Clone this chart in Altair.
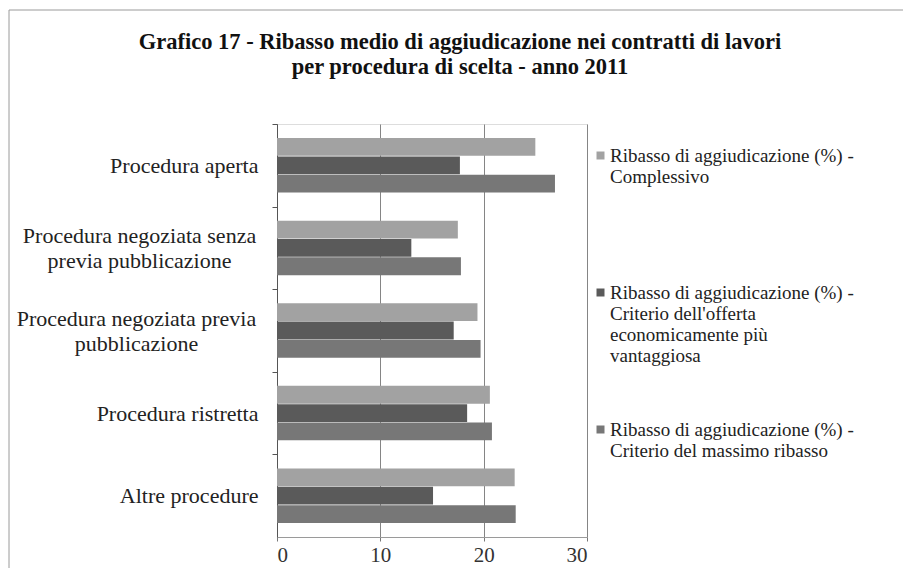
import altair as alt
import pandas as pd

categories = [
    "Procedura aperta",
    "Procedura negoziata senza previa pubblicazione",
    "Procedura negoziata previa pubblicazione",
    "Procedura ristretta",
    "Altre procedure",
]
category_lines = {
    "Procedura negoziata senza previa pubblicazione": ["Procedura negoziata senza", "previa pubblicazione"],
    "Procedura negoziata previa pubblicazione": ["Procedura negoziata previa", "pubblicazione"],
}
series = [
    "Ribasso di aggiudicazione (%) - Complessivo",
    "Ribasso di aggiudicazione (%) - Criterio dell'offerta economicamente più vantaggiosa",
    "Ribasso di aggiudicazione (%) - Criterio del massimo ribasso",
]
series_lines = {
    series[0]: ["Ribasso di aggiudicazione (%) -", "Complessivo"],
    series[1]: ["Ribasso di aggiudicazione (%) -", "Criterio dell'offerta", "economicamente più", "vantaggiosa"],
    series[2]: ["Ribasso di aggiudicazione (%) -", "Criterio del massimo ribasso"],
}
complessivo = [25.0, 17.5, 19.4, 20.6, 23.0]
offerta_vantaggiosa = [17.7, 13.0, 17.1, 18.4, 15.1]
massimo_ribasso = [26.9, 17.8, 19.7, 20.8, 23.1]
colors = ["#a2a2a2", "#5a5a5a", "#777777"]
x_ticks = [0, 10, 20, 30]

rows = []
for i, c in enumerate(categories):
    for s, vals in zip(series, [complessivo, offerta_vantaggiosa, massimo_ribasso]):
        rows.append({"categoria": c, "serie": s, "valore": vals[i]})
df = pd.DataFrame(rows)

FONT = "Liberation Serif"
W, H = 310, 413
STEP = H / len(categories)
LINE_H = 25
FRAME_TOP = -114


def js_str(s):
    return "'" + s.replace("\\", "\\\\").replace("'", "\\'") + "'"


def lines_expr(mapping):
    expr = "datum.label"
    for k, v in mapping.items():
        arr = "[" + ",".join(js_str(x) for x in v) + "]"
        expr = f"datum.label == {js_str(k)} ? {arr} : ({expr})"
    return expr


multi = list(category_lines.keys())
multi_test = " || ".join(f"datum.value == {js_str(k)}" for k in multi)
align_cond = {"condition": {"test": multi_test, "value": "center"}, "value": "right"}
offset_cond = {"condition": {"test": multi_test, "value": STEP / 2 - LINE_H / 2}, "value": STEP / 2}
pad_cond = {
    "condition": [
        {"test": f"datum.value == {js_str(multi[0])}", "value": 14 + 119},
        {"test": f"datum.value == {js_str(multi[1])}", "value": 14 + 122},
    ],
    "value": 14,
}

bars = alt.Chart(df).mark_bar().encode(
    x=alt.X(
        "valore:Q",
        scale=alt.Scale(domain=[0, 30], nice=False),
        axis=alt.Axis(
            values=x_ticks, title=None, grid=True, gridColor="#858585", gridWidth=1,
            domainColor="#9a9a9a", tickColor="#777777", tickSize=4,
            labelFont=FONT, labelFontSize=21, labelColor="#333333", labelPadding=3,
        ),
    ),
    y=alt.Y(
        "categoria:N",
        sort=categories,
        scale=alt.Scale(paddingInner=0.34, paddingOuter=0.17),
        axis=alt.Axis(
            title=None, domainColor="#555555", tickColor="#555555", tickSize=5,
            tickOffset=-STEP / 2, labelOffset=offset_cond,
            labelExpr=lines_expr(category_lines), labelLineHeight=LINE_H,
            labelFont=FONT, labelFontSize=22, labelColor="#222222",
            labelAlign=align_cond, labelPadding=pad_cond, labelLimit=400,
        ),
    ),
    yOffset=alt.YOffset("serie:N", sort=series, scale=alt.Scale(paddingInner=0.03)),
    color=alt.Color(
        "serie:N",
        sort=series,
        scale=alt.Scale(domain=series, range=colors),
        legend=alt.Legend(
            title=None, orient="none", legendX=314, legendY=22,
            symbolType="square", symbolSize=64, symbolStrokeWidth=0,
            labelFont=FONT, labelFontSize=19, labelColor="#222222", labelLimit=400,
            labelExpr=lines_expr(series_lines), rowPadding=54, labelOffset=0,
            gridAlign="all",
        ),
    ),
)

frame_df = pd.DataFrame({"k": [0]})
frame = alt.Chart(frame_df).mark_rect(fill=None, stroke="#9a9a9a", strokeWidth=1).encode(
    x=alt.value(-268), x2=alt.value(634), y=alt.value(FRAME_TOP), y2=alt.value(470)
)

chart = alt.layer(frame, bars).properties(
    width=W, height=H,
    title=alt.Title(
        ["Grafico 17  - Ribasso medio di aggiudicazione nei contratti di lavori",
         "per procedura di scelta - anno 2011"],
        font=FONT, fontSize=22.5, fontWeight="bold", color="#111111",
        lineHeight=25, anchor="middle", dx=28, offset=FRAME_TOP + 45, frame="group",
    ),
    autosize=alt.AutoSizeParams(type="none"),
    padding={"left": 269, "top": 116, "right": 316, "bottom": 31},
).configure_view(stroke=None).configure(background="#ffffff")

chart.save("out.html", embed_options={"renderer": "svg", "actions": False})
